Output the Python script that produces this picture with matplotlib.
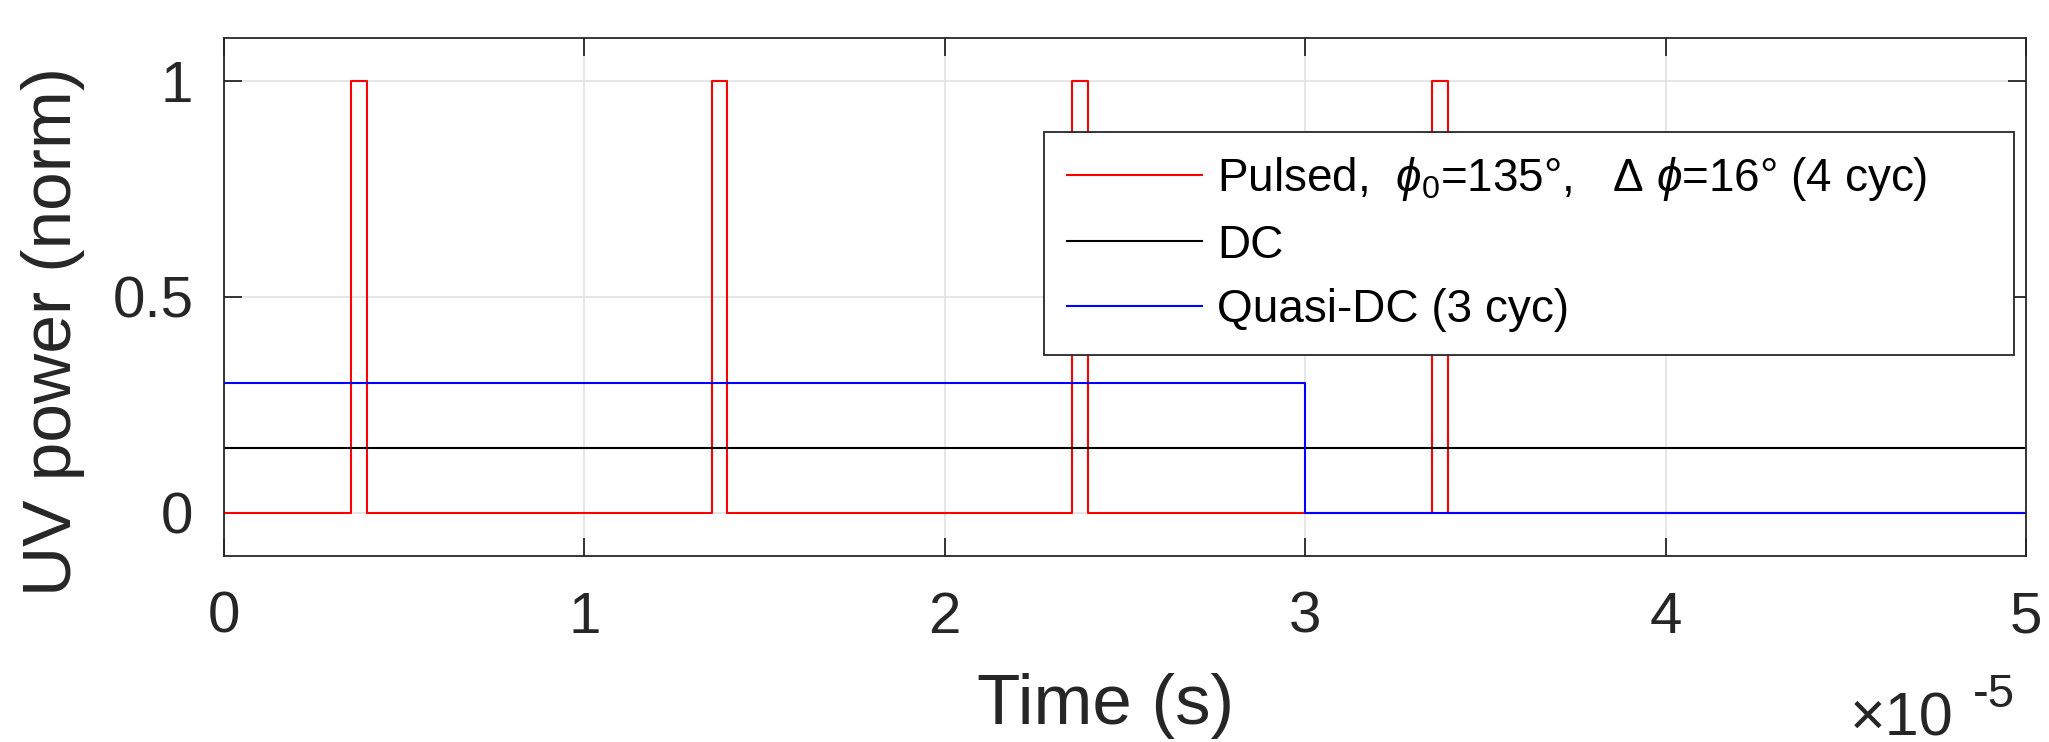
import matplotlib
matplotlib.use("Agg")
import matplotlib.pyplot as plt
from matplotlib.ticker import FuncFormatter

plt.rcParams['font.family'] = ['Liberation Sans', 'DejaVu Sans']
plt.rcParams['mathtext.fontset'] = 'custom'
plt.rcParams['mathtext.rm'] = 'Liberation Sans'
plt.rcParams['mathtext.it'] = 'Liberation Sans:italic'
plt.rcParams['mathtext.fallback'] = 'stixsans'

# ---- data (time in seconds) ----
scale = 1e-5
pulse_on = [0.353e-5, 1.353e-5, 2.353e-5, 3.353e-5]
pulse_off = [0.397e-5, 1.397e-5, 2.397e-5, 3.397e-5]
pulse_level = 1.0
t_end = 5e-5

dc_t = [0, 5e-5]
dc_v = [0.15, 0.15]

qdc_t = [0, 3e-5, 5e-5]
qdc_v = [0.3, 0.0, 0.0]

labels = [r'Pulsed,  $\phi_0$=135°,   $\Delta$ $\phi$=16° (4 cyc)',
          'DC',
          'Quasi-DC (3 cyc)']
xticks = [0, 1e-5, 2e-5, 3e-5, 4e-5, 5e-5]
yticks = [0, 0.5, 1]

# build step series for the pulsed signal
p_t = [0.0]
p_v = [0.0]
for on, off in zip(pulse_on, pulse_off):
    p_t += [on, off]
    p_v += [pulse_level, 0.0]
p_t.append(t_end)
p_v.append(0.0)

W, H = 2049, 742
fig = plt.figure(figsize=(W / 100, H / 100), dpi=100)
ax = fig.add_axes([224 / W, 1 - 556 / H, (2026 - 224) / W, (556 - 38) / H])

dark = '#262626'
lw = 1.5
ax.plot(p_t, p_v, drawstyle='steps-post', color='#ff0000', lw=lw, label=labels[0])
ax.plot(dc_t, dc_v, color='black', lw=lw, label=labels[1])
ax.plot(qdc_t, qdc_v, drawstyle='steps-post', color='#0000ff', lw=lw, label=labels[2])

ax.set_xlim(0, 5e-5)
ax.set_ylim(-0.1, 1.1)
ax.set_xticks(xticks)
ax.set_yticks(yticks)
ax.xaxis.set_major_formatter(FuncFormatter(lambda v, p: f'{v / scale:g}'))
ax.yaxis.set_major_formatter(FuncFormatter(lambda v, p: f'{v:g}'))

ax.grid(True, color='#e2e2e2', lw=1.2)
ax.set_axisbelow(True)
for s in ax.spines.values():
    s.set_color(dark)
    s.set_linewidth(1.3)
ax.tick_params(direction='in', length=13, width=1.3, color=dark,
               top=True, right=True, labelsize=42, labelcolor=dark)
ax.tick_params(axis='x', pad=25)
ax.tick_params(axis='y', pad=22)

ax.set_xlabel('Time (s)', fontsize=51, color=dark)
ax.xaxis.set_label_coords((1106 - 224) / 1802, (556 - 673) / 518)
ax.set_ylabel('UV power (norm)', fontsize=50, color=dark)
ax.yaxis.set_label_coords((85 - 224) / 1802, 1 - (331 - 38) / 518)

fig.text(1850 / W, 6 / H, '×10', fontsize=44, color=dark, ha='left', va='baseline')
fig.text(1973 / W, 35 / H, '-5', fontsize=34, color=dark, ha='left', va='baseline')

x0 = (1044 - 224) / 1802
x1 = (2014 - 224) / 1802
ytop = 1 - (132 - 38) / 518
leg = ax.legend(loc='upper left', bbox_to_anchor=(x0, 0, x1 - x0, ytop),
                bbox_transform=ax.transAxes,
                mode='expand', ncol=1, fontsize=33, frameon=True, fancybox=False,
                framealpha=1, edgecolor=dark, borderpad=0.5, borderaxespad=0,
                handlelength=2.95, handletextpad=0.32, labelspacing=0.45)
leg.get_frame().set_linewidth(1.3)

fig.savefig('out.png', dpi=100)
